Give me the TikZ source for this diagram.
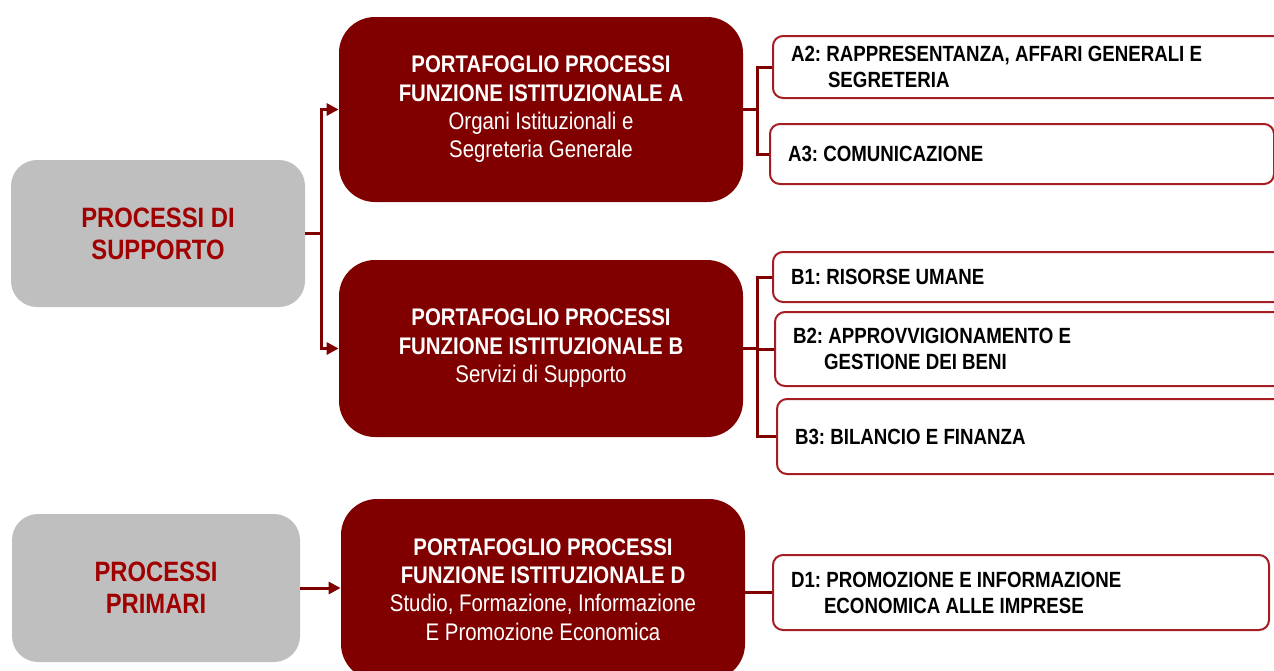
\documentclass[tikz,border=0pt]{standalone}
\usepackage{fontspec}
\setmainfont{Liberation Sans}[FakeStretch=0.85]
\frenchspacing
\usetikzlibrary{arrows.meta}
\definecolor{portred}{RGB}{128,0,0}
\definecolor{grpgray}{RGB}{191,191,191}
\definecolor{grptext}{RGB}{160,0,0}
\definecolor{subline}{RGB}{165,30,35}
\tikzset{
  grp/.style={fill=grpgray,rounded corners=13pt,text=grptext,align=center,
    font=\fontsize{14}{16}\selectfont\bfseries},
  port/.style={fill=portred,rounded corners=18pt,text=white,align=center,
    minimum width=202pt,font=\fontsize{12}{14.2}\selectfont},
  sub/.style={draw=subline,line width=1pt,rounded corners=5pt,fill=white,anchor=west,
    align=flush left,inner xsep=9pt,font=\fontsize{11}{13}\selectfont\bfseries},
  conn/.style={portred,line width=1.5pt},
  arr/.style={conn,-{Triangle[length=6pt,width=6pt]}}
}
\begin{document}
\begin{tikzpicture}[x=0.5pt,y=-0.5pt]
    \useasboundingbox (0,0) rectangle (1274,670);
    \clip (0,0) rectangle (1274,670);
    % left groups
    \node[grp,minimum width=147pt,minimum height=73.5pt] (sup) at (158,233.5) {PROCESSI DI\\SUPPORTO};
    \node[grp,minimum width=144pt,minimum height=74pt] (pri) at (156,588) {PROCESSI\\PRIMARI};
    % portfolios
    \node[port,minimum height=92.5pt] (A) at (541,109.5) {\textbf{PORTAFOGLIO PROCESSI}\\\textbf{FUNZIONE ISTITUZIONALE A}\\Organi Istituzionali e\\Segreteria Generale};
    \node[port,minimum height=88.5pt] (B) at (541,348.5) {\textbf{PORTAFOGLIO PROCESSI}\\\textbf{FUNZIONE ISTITUZIONALE B}\\Servizi di Supporto};
    \node[port,minimum height=90.5pt] (D) at (543,589.5) {\textbf{PORTAFOGLIO PROCESSI}\\\textbf{FUNZIONE ISTITUZIONALE D}\\Studio, Formazione, Informazione\\E Promozione Economica};
    % sub processes
    \node[sub,text width=246pt,minimum height=31pt] (A2) at (772,67) {A2: RAPPRESENTANZA, AFFARI GENERALI E\\\hspace*{18.5pt}SEGRETERIA};
    \node[sub,text width=234pt,minimum height=30pt] (A3) at (769,154) {A3: COMUNICAZIONE};
    \node[sub,text width=246pt,minimum height=25pt] (B1) at (772,277) {B1: RISORSE UMANE};
    \node[sub,text width=245pt,minimum height=37pt] (B2) at (774,349) {B2: APPROVVIGIONAMENTO E\\\hspace*{15.5pt}GESTIONE DEI BENI};
    \node[sub,text width=244pt,minimum height=37.5pt] (B3) at (776,436.5) {B3: BILANCIO E FINANZA};
    \node[sub,text width=230pt,minimum height=37.5pt] (D1) at (772,592.5) {D1: PROMOZIONE E INFORMAZIONE\\\hspace*{16.5pt}ECONOMICA ALLE IMPRESE};
    % connectors
    \draw[conn] (sup.east) -- ++(16,0) coordinate (js);
    \draw[arr] (js) |- (A.west);
    \draw[arr] (js) |- (B.west);
    \draw[arr] (pri.east) -- (pri.east -| D.west);
    \draw[conn] (A.east) -- ++(14,0) coordinate (ja) |- (A2.west);
    \draw[conn] (ja) |- (A3.west);
    \draw[conn] (B.east) -- ++(14,0) coordinate (jb) |- (B1.west);
    \draw[conn] (jb) |- (B2.west);
    \draw[conn] (jb) |- (B3.west);
    \draw[conn] (D1.west) -- (D1.west -| D.east);
\end{tikzpicture}
\end{document}
